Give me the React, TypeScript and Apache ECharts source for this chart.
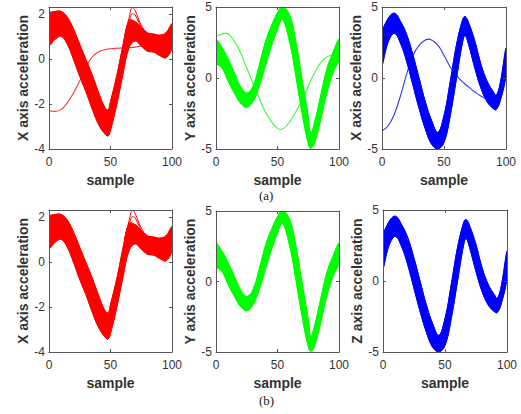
import React, { useEffect, useRef } from "react";
import * as echarts from "echarts";

// ---------- tick labels ----------
const X_TICKS = [0, 50, 100];
const RED_Y_TICKS = [-4, -2, 0, 2];
const GB_Y_TICKS = [-5, 0, 5];

// ---------- red band (X axis acceleration) ----------
const RED_X = [0, 5, 10, 15, 20, 25, 30, 35, 40, 45, 48, 50, 55, 60, 65, 70, 75, 80, 85, 90, 95, 100];
const RED_UPPER = [2.0, 2.1, 2.1, 1.84, 1.31, 0.64, -0.03, -0.7, -1.45, -2.12, -2.27, -1.9, -0.78, 0.49, 1.7, 1.65, 1.4, 1.15, 1.1, 1.05, 1.15, 1.55];
const RED_LOWER = [0.6, 0.87, 1.0, 0.64, -0.03, -0.78, -1.45, -2.2, -2.87, -3.3, -3.42, -3.16, -2.04, -0.7, 0.49, 0.8, 0.57, 0.34, 0.3, 0.15, 0.05, 0.5];
const RED_HIGH_X = [50, 55, 60, 65, 68, 70, 75, 80, 85, 90];
const RED_HIGH_1 = [-2.5, -0.9, 0.6, 1.8, 2.28, 2.15, 1.5, 1.15, 1.05, 1.0];
const RED_HIGH_2 = [-2.6, -1.1, 0.4, 1.6, 2.0, 1.95, 1.4, 1.05, 0.95, 0.9];
const RED_OUT_X = [0, 5, 10, 15, 20, 25, 30, 35, 40, 45, 50, 55, 60, 65, 70, 75, 80, 85, 90, 95, 100];
const RED_OUT = [-2.3, -2.33, -2.24, -1.94, -1.5, -0.97, -0.37, 0.07, 0.3, 0.4, 0.45, 0.47, 0.48, 0.5, 0.52, 0.58, 0.66, 0.74, 0.8, 0.85, 0.9];

// ---------- green band (Y axis acceleration) ----------
const GREEN_X = [0, 5, 10, 15, 20, 25, 30, 35, 40, 45, 50, 54, 60, 65, 70, 75, 77, 80, 85, 90, 95, 100];
const GREEN_UPPER = [2.7, 2.13, 1.3, 0.35, -0.6, -1.06, -0.6, 0.83, 2.48, 3.66, 4.6, 5.05, 4.37, 2.48, -0.12, -2.72, -3.9, -3.19, -1.3, 0.59, 1.77, 2.72];
const GREEN_LOWER = [1.1, 0.71, -0.24, -1.06, -1.77, -2.06, -1.65, -0.6, 0.83, 2.25, 3.43, 4.14, 2.48, 0.12, -2.48, -4.6, -4.95, -4.6, -2.95, -1.06, 0.35, 1.3];
const GREEN_OUT_X = [0, 5, 8, 10, 15, 20, 25, 30, 35, 40, 45, 50, 52, 55, 60, 65, 70, 75, 80, 85, 90, 95, 100];
const GREEN_OUT = [2.95, 3.1, 3.14, 3.1, 2.6, 1.77, 0.7, -0.35, -1.42, -2.36, -3.07, -3.55, -3.62, -3.55, -3.07, -2.36, -1.54, -0.6, 0.35, 1.06, 1.47, 1.65, 1.77];

// ---------- blue band (X / Z axis acceleration) ----------
const BLUE_X = [0, 5, 10, 15, 20, 25, 30, 35, 40, 45, 50, 55, 60, 65, 67, 70, 75, 80, 85, 90, 92, 95, 100];
const BLUE_UPPER = [3.1, 4.2, 4.56, 3.97, 3.03, 1.6, -0.05, -1.7, -3.0, -3.83, -2.65, -0.28, 2.3, 4.1, 4.33, 3.85, 2.55, 0.9, -0.28, -1.0, -1.23, -0.52, 2.08];
const BLUE_LOWER = [0.9, 2.55, 3.14, 2.43, 1.13, -0.52, -2.17, -3.6, -4.66, -5.0, -4.54, -2.65, -0.05, 2.55, 3.0, 2.3, 0.66, -0.76, -1.7, -2.17, -2.22, -1.7, 0.19];
const BLUE_OUT_X = [0, 5, 10, 15, 20, 25, 30, 35, 38, 40, 45, 50, 55, 60, 65, 70, 75, 80, 85, 90, 95, 100];
const BLUE_OUT = [-3.71, -3.36, -2.53, -1.23, 0.31, 1.6, 2.32, 2.67, 2.74, 2.67, 2.32, 1.6, 0.78, 0.19, -0.28, -0.64, -0.99, -1.28, -1.47, -1.5, -0.9, 0.9];

// ---------- labels ----------
const Y_NAMES = ["X axis acceleration", "Y axis acceleration", "X axis acceleration", "X axis acceleration", "Y axis acceleration", "Z axis acceleration"];
const X_NAME = "sample";
const CAPTIONS = ["(a)", "(b)"];

const BANDS: any = {
  red: { color: "#ff0000", x: RED_X, lo: RED_LOWER, up: RED_UPPER, min: -4, max: 2.3, interval: 2, ticks: RED_Y_TICKS,
    extras: [[RED_HIGH_X, RED_HIGH_1], [RED_HIGH_X, RED_HIGH_2]], outlier: [RED_OUT_X, RED_OUT] },
  green: { color: "#00ff00", x: GREEN_X, lo: GREEN_LOWER, up: GREEN_UPPER, min: -5, max: 5, interval: 5, ticks: GB_Y_TICKS,
    extras: [], outlier: [GREEN_OUT_X, GREEN_OUT] },
  blue: { color: "#0000ff", x: BLUE_X, lo: BLUE_LOWER, up: BLUE_UPPER, min: -5, max: 5, interval: 5, ticks: GB_Y_TICKS,
    extras: [], outlier: [BLUE_OUT_X, BLUE_OUT] },
};

const PANELS = [
  { band: "red", grid: { left: 49, top: 7, width: 123, height: 142 }, outlier: true },
  { band: "green", grid: { left: 216, top: 7, width: 123, height: 142 }, outlier: true },
  { band: "blue", grid: { left: 382, top: 7, width: 124, height: 142 }, outlier: true },
  { band: "red", grid: { left: 49, top: 210, width: 123, height: 142 }, outlier: false },
  { band: "green", grid: { left: 216, top: 211, width: 123, height: 141 }, outlier: false },
  { band: "blue", grid: { left: 383, top: 210, width: 124, height: 142 }, outlier: false },
];

const FONT = "'Liberation Sans', Arial, Helvetica, sans-serif";
const AXIS_COLOR = "#555";
const LABEL_COLOR = "#333";
const SMOOTH = 0.4;

function bandRenderer(b: any) {
  return (params: any, api: any) => {
    const cs = params.coordSys;
    const up = b.x.map((x: number, k: number) => api.coord([x, b.up[k]]));
    const lo = b.x.map((x: number, k: number) => api.coord([x, b.lo[k]]));
    const constraint = [[cs.x, cs.y], [cs.x + cs.width, cs.y + cs.height]];
    const poly = up.concat(lo.slice().reverse());
    return {
      type: "group",
      clipPath: { type: "rect", shape: { x: cs.x, y: cs.y, width: cs.width, height: cs.height } },
      children: [
        { type: "polygon", shape: { points: poly, smooth: SMOOTH, smoothConstraint: constraint }, style: { fill: b.color, stroke: b.color, lineWidth: 1 } },
        { type: "polyline", shape: { points: up, smooth: SMOOTH, smoothConstraint: constraint }, style: { fill: null, stroke: b.color, lineWidth: 1 } },
        { type: "polyline", shape: { points: lo, smooth: SMOOTH, smoothConstraint: constraint }, style: { fill: null, stroke: b.color, lineWidth: 1 } },
      ],
    };
  };
}

function buildOption() {
  const grid: any[] = [];
  const xAxis: any[] = [];
  const yAxis: any[] = [];
  const series: any[] = [];

  PANELS.forEach((p, i) => {
    const b = BANDS[p.band];
    grid.push({ ...p.grid, containLabel: false });
    const lineStyle = { color: AXIS_COLOR, width: 1 };
    xAxis.push({
      type: "value", gridIndex: i, min: 0, max: 100, interval: 50, position: "bottom", z: 5,
      axisLine: { show: true, onZero: false, lineStyle },
      axisTick: { show: true, inside: true, length: 3, lineStyle },
      axisLabel: { show: true, margin: 7, fontSize: 12, color: LABEL_COLOR, fontFamily: FONT,
        formatter: (v: number) => (X_TICKS.includes(v) ? String(v) : "") },
      splitLine: { show: false },
      name: X_NAME, nameLocation: "middle", nameGap: 24,
      nameTextStyle: { fontSize: 14, fontWeight: "bold", color: LABEL_COLOR, fontFamily: FONT, lineHeight: 14 },
    });
    xAxis.push({
      type: "value", gridIndex: i, min: 0, max: 100, interval: 50, position: "top", z: 5,
      axisLine: { show: true, onZero: false, lineStyle },
      axisTick: { show: true, inside: true, length: 3, lineStyle },
      axisLabel: { show: false }, splitLine: { show: false },
    });
    yAxis.push({
      type: "value", gridIndex: i, min: b.min, max: b.max, interval: b.interval, position: "left", z: 5,
      axisLine: { show: true, onZero: false, lineStyle },
      axisTick: { show: true, inside: true, length: 3, lineStyle },
      axisLabel: { show: true, margin: 4, fontSize: 12, color: LABEL_COLOR, fontFamily: FONT,
        formatter: (v: number) => (b.ticks.includes(v) ? String(v) : "") },
      splitLine: { show: false },
      name: Y_NAMES[i], nameLocation: "middle", nameGap: 19,
      nameTextStyle: { fontSize: 14, fontWeight: "bold", color: LABEL_COLOR, fontFamily: FONT },
    });
    yAxis.push({
      type: "value", gridIndex: i, min: b.min, max: b.max, interval: b.interval, position: "right", z: 5,
      axisLine: { show: true, onZero: false, lineStyle },
      axisTick: { show: true, inside: true, length: 3, lineStyle },
      axisLabel: { show: false }, splitLine: { show: false },
    });

    const xi = 2 * i, yi = 2 * i;
    series.push({
      type: "custom", xAxisIndex: xi, yAxisIndex: yi, silent: true,
      data: [[0, 0]], renderItem: bandRenderer(b), z: 2,
    });
    const common = { type: "line", xAxisIndex: xi, yAxisIndex: yi, showSymbol: false, symbol: "none", smooth: 0.45, clip: true, silent: true, z: 3 };
    b.extras.forEach((e: any) => {
      series.push({ ...common, data: e[0].map((x: number, k: number) => [x, e[1][k]]), lineStyle: { color: b.color, width: 1 } });
    });
    if (p.outlier) {
      const o = b.outlier;
      series.push({ ...common, data: o[0].map((x: number, k: number) => [x, o[1][k]]), lineStyle: { color: b.color, width: 1.1, opacity: 0.8 } });
    }
  });

  const graphic = [
    { type: "text", left: 259, top: 189, style: { text: CAPTIONS[0], font: "13px 'Liberation Serif', 'Times New Roman', serif", fill: "#222", lineHeight: 13 } },
    { type: "text", left: 259, top: 394, style: { text: CAPTIONS[1], font: "13px 'Liberation Serif', 'Times New Roman', serif", fill: "#222", lineHeight: 13 } },
  ];

  return { animation: false, backgroundColor: "#fff", grid, xAxis, yAxis, series, graphic };
}

export default function App() {
  const ref = useRef<HTMLDivElement>(null);
  useEffect(() => {
    const chart = echarts.init(ref.current as HTMLDivElement, null, { renderer: "svg" });
    chart.setOption(buildOption() as any);
    return () => chart.dispose();
  }, []);
  return <div ref={ref} style={{ position: "fixed", left: 0, top: 0, width: 521, height: 414, background: "#fff" }} />;
}
